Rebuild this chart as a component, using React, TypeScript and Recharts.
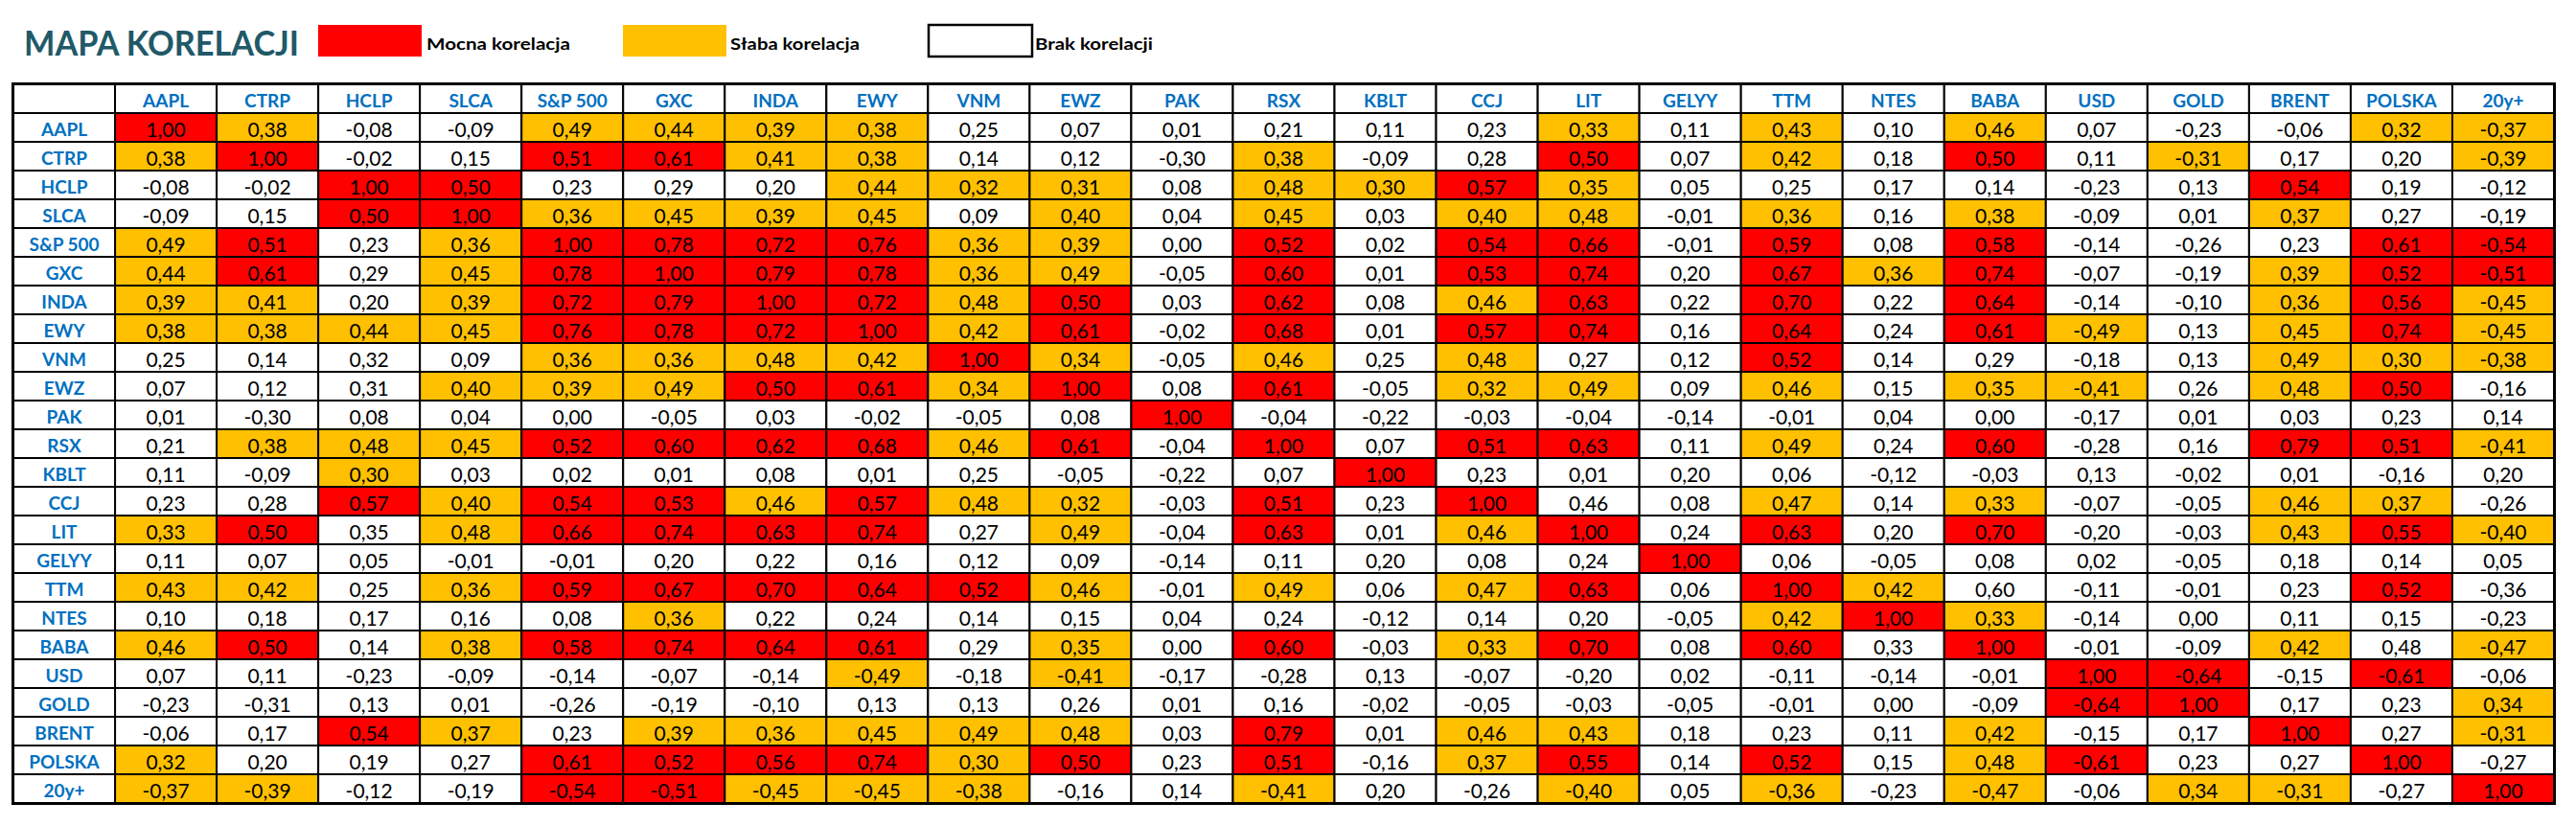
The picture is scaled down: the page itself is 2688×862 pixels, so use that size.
import React from 'react';
import { ScatterChart, Scatter, XAxis, YAxis } from 'recharts';

// ---------- DATA ----------
const tickers = ['AAPL', 'CTRP', 'HCLP', 'SLCA', 'S&P 500', 'GXC', 'INDA', 'EWY', 'VNM', 'EWZ', 'PAK', 'RSX', 'KBLT', 'CCJ', 'LIT', 'GELYY', 'TTM', 'NTES', 'BABA', 'USD', 'GOLD', 'BRENT', 'POLSKA', '20y+'];

const legendLabels = ['Mocna korelacja', 'Słaba korelacja', 'Brak korelacji'];
const title = 'MAPA KORELACJI';

// correlation values, one array per row (column order = tickers)
const rowAAPL = [1.00, 0.38, -0.08, -0.09, 0.49, 0.44, 0.39, 0.38, 0.25, 0.07, 0.01, 0.21, 0.11, 0.23, 0.33, 0.11, 0.43, 0.10, 0.46, 0.07, -0.23, -0.06, 0.32, -0.37];
const rowCTRP = [0.38, 1.00, -0.02, 0.15, 0.51, 0.61, 0.41, 0.38, 0.14, 0.12, -0.30, 0.38, -0.09, 0.28, 0.50, 0.07, 0.42, 0.18, 0.50, 0.11, -0.31, 0.17, 0.20, -0.39];
const rowHCLP = [-0.08, -0.02, 1.00, 0.50, 0.23, 0.29, 0.20, 0.44, 0.32, 0.31, 0.08, 0.48, 0.30, 0.57, 0.35, 0.05, 0.25, 0.17, 0.14, -0.23, 0.13, 0.54, 0.19, -0.12];
const rowSLCA = [-0.09, 0.15, 0.50, 1.00, 0.36, 0.45, 0.39, 0.45, 0.09, 0.40, 0.04, 0.45, 0.03, 0.40, 0.48, -0.01, 0.36, 0.16, 0.38, -0.09, 0.01, 0.37, 0.27, -0.19];
const rowSP500 = [0.49, 0.51, 0.23, 0.36, 1.00, 0.78, 0.72, 0.76, 0.36, 0.39, 0.00, 0.52, 0.02, 0.54, 0.66, -0.01, 0.59, 0.08, 0.58, -0.14, -0.26, 0.23, 0.61, -0.54];
const rowGXC = [0.44, 0.61, 0.29, 0.45, 0.78, 1.00, 0.79, 0.78, 0.36, 0.49, -0.05, 0.60, 0.01, 0.53, 0.74, 0.20, 0.67, 0.36, 0.74, -0.07, -0.19, 0.39, 0.52, -0.51];
const rowINDA = [0.39, 0.41, 0.20, 0.39, 0.72, 0.79, 1.00, 0.72, 0.48, 0.50, 0.03, 0.62, 0.08, 0.46, 0.63, 0.22, 0.70, 0.22, 0.64, -0.14, -0.10, 0.36, 0.56, -0.45];
const rowEWY = [0.38, 0.38, 0.44, 0.45, 0.76, 0.78, 0.72, 1.00, 0.42, 0.61, -0.02, 0.68, 0.01, 0.57, 0.74, 0.16, 0.64, 0.24, 0.61, -0.49, 0.13, 0.45, 0.74, -0.45];
const rowVNM = [0.25, 0.14, 0.32, 0.09, 0.36, 0.36, 0.48, 0.42, 1.00, 0.34, -0.05, 0.46, 0.25, 0.48, 0.27, 0.12, 0.52, 0.14, 0.29, -0.18, 0.13, 0.49, 0.30, -0.38];
const rowEWZ = [0.07, 0.12, 0.31, 0.40, 0.39, 0.49, 0.50, 0.61, 0.34, 1.00, 0.08, 0.61, -0.05, 0.32, 0.49, 0.09, 0.46, 0.15, 0.35, -0.41, 0.26, 0.48, 0.50, -0.16];
const rowPAK = [0.01, -0.30, 0.08, 0.04, 0.00, -0.05, 0.03, -0.02, -0.05, 0.08, 1.00, -0.04, -0.22, -0.03, -0.04, -0.14, -0.01, 0.04, 0.00, -0.17, 0.01, 0.03, 0.23, 0.14];
const rowRSX = [0.21, 0.38, 0.48, 0.45, 0.52, 0.60, 0.62, 0.68, 0.46, 0.61, -0.04, 1.00, 0.07, 0.51, 0.63, 0.11, 0.49, 0.24, 0.60, -0.28, 0.16, 0.79, 0.51, -0.41];
const rowKBLT = [0.11, -0.09, 0.30, 0.03, 0.02, 0.01, 0.08, 0.01, 0.25, -0.05, -0.22, 0.07, 1.00, 0.23, 0.01, 0.20, 0.06, -0.12, -0.03, 0.13, -0.02, 0.01, -0.16, 0.20];
const rowCCJ = [0.23, 0.28, 0.57, 0.40, 0.54, 0.53, 0.46, 0.57, 0.48, 0.32, -0.03, 0.51, 0.23, 1.00, 0.46, 0.08, 0.47, 0.14, 0.33, -0.07, -0.05, 0.46, 0.37, -0.26];
const rowLIT = [0.33, 0.50, 0.35, 0.48, 0.66, 0.74, 0.63, 0.74, 0.27, 0.49, -0.04, 0.63, 0.01, 0.46, 1.00, 0.24, 0.63, 0.20, 0.70, -0.20, -0.03, 0.43, 0.55, -0.40];
const rowGELYY = [0.11, 0.07, 0.05, -0.01, -0.01, 0.20, 0.22, 0.16, 0.12, 0.09, -0.14, 0.11, 0.20, 0.08, 0.24, 1.00, 0.06, -0.05, 0.08, 0.02, -0.05, 0.18, 0.14, 0.05];
const rowTTM = [0.43, 0.42, 0.25, 0.36, 0.59, 0.67, 0.70, 0.64, 0.52, 0.46, -0.01, 0.49, 0.06, 0.47, 0.63, 0.06, 1.00, 0.42, 0.60, -0.11, -0.01, 0.23, 0.52, -0.36];
const rowNTES = [0.10, 0.18, 0.17, 0.16, 0.08, 0.36, 0.22, 0.24, 0.14, 0.15, 0.04, 0.24, -0.12, 0.14, 0.20, -0.05, 0.42, 1.00, 0.33, -0.14, 0.00, 0.11, 0.15, -0.23];
const rowBABA = [0.46, 0.50, 0.14, 0.38, 0.58, 0.74, 0.64, 0.61, 0.29, 0.35, 0.00, 0.60, -0.03, 0.33, 0.70, 0.08, 0.60, 0.33, 1.00, -0.01, -0.09, 0.42, 0.48, -0.47];
const rowUSD = [0.07, 0.11, -0.23, -0.09, -0.14, -0.07, -0.14, -0.49, -0.18, -0.41, -0.17, -0.28, 0.13, -0.07, -0.20, 0.02, -0.11, -0.14, -0.01, 1.00, -0.64, -0.15, -0.61, -0.06];
const rowGOLD = [-0.23, -0.31, 0.13, 0.01, -0.26, -0.19, -0.10, 0.13, 0.13, 0.26, 0.01, 0.16, -0.02, -0.05, -0.03, -0.05, -0.01, 0.00, -0.09, -0.64, 1.00, 0.17, 0.23, 0.34];
const rowBRENT = [-0.06, 0.17, 0.54, 0.37, 0.23, 0.39, 0.36, 0.45, 0.49, 0.48, 0.03, 0.79, 0.01, 0.46, 0.43, 0.18, 0.23, 0.11, 0.42, -0.15, 0.17, 1.00, 0.27, -0.31];
const rowPOLSKA = [0.32, 0.20, 0.19, 0.27, 0.61, 0.52, 0.56, 0.74, 0.30, 0.50, 0.23, 0.51, -0.16, 0.37, 0.55, 0.14, 0.52, 0.15, 0.48, -0.61, 0.23, 0.27, 1.00, -0.27];
const row20y = [-0.37, -0.39, -0.12, -0.19, -0.54, -0.51, -0.45, -0.45, -0.38, -0.16, 0.14, -0.41, 0.20, -0.26, -0.40, 0.05, -0.36, -0.23, -0.47, -0.06, 0.34, -0.31, -0.27, 1.00];

// highlight class per cell: 2 = strong (Mocna), 1 = weak (Słaba), 0 = none (Brak)
const levAAPL = [2, 1, 0, 0, 1, 1, 1, 1, 0, 0, 0, 0, 0, 0, 1, 0, 1, 0, 1, 0, 0, 0, 1, 1];
const levCTRP = [1, 2, 0, 0, 2, 2, 1, 1, 0, 0, 0, 1, 0, 0, 2, 0, 1, 0, 2, 0, 1, 0, 0, 1];
const levHCLP = [0, 0, 2, 2, 0, 0, 0, 1, 1, 1, 0, 1, 1, 2, 1, 0, 0, 0, 0, 0, 0, 2, 0, 0];
const levSLCA = [0, 0, 2, 2, 1, 1, 1, 1, 0, 1, 0, 1, 0, 1, 1, 0, 1, 0, 1, 0, 0, 1, 0, 0];
const levSP500 = [1, 2, 0, 1, 2, 2, 2, 2, 1, 1, 0, 2, 0, 2, 2, 0, 2, 0, 2, 0, 0, 0, 2, 2];
const levGXC = [1, 2, 0, 1, 2, 2, 2, 2, 1, 1, 0, 2, 0, 2, 2, 0, 2, 1, 2, 0, 0, 1, 2, 2];
const levINDA = [1, 1, 0, 1, 2, 2, 2, 2, 1, 2, 0, 2, 0, 1, 2, 0, 2, 0, 2, 0, 0, 1, 2, 1];
const levEWY = [1, 1, 1, 1, 2, 2, 2, 2, 1, 2, 0, 2, 0, 2, 2, 0, 2, 0, 2, 1, 0, 1, 2, 1];
const levVNM = [0, 0, 0, 0, 1, 1, 1, 1, 2, 1, 0, 1, 0, 1, 0, 0, 2, 0, 0, 0, 0, 1, 1, 1];
const levEWZ = [0, 0, 0, 1, 1, 1, 2, 2, 1, 2, 0, 2, 0, 1, 1, 0, 1, 0, 1, 1, 0, 1, 2, 0];
const levPAK = [0, 0, 0, 0, 0, 0, 0, 0, 0, 0, 2, 0, 0, 0, 0, 0, 0, 0, 0, 0, 0, 0, 0, 0];
const levRSX = [0, 1, 1, 1, 2, 2, 2, 2, 1, 2, 0, 2, 0, 2, 2, 0, 1, 0, 2, 0, 0, 2, 2, 1];
const levKBLT = [0, 0, 1, 0, 0, 0, 0, 0, 0, 0, 0, 0, 2, 0, 0, 0, 0, 0, 0, 0, 0, 0, 0, 0];
const levCCJ = [0, 0, 2, 1, 2, 2, 1, 2, 1, 1, 0, 2, 0, 2, 0, 0, 1, 0, 1, 0, 0, 1, 1, 0];
const levLIT = [1, 2, 0, 1, 2, 2, 2, 2, 0, 1, 0, 2, 0, 1, 2, 0, 2, 0, 2, 0, 0, 1, 2, 1];
const levGELYY = [0, 0, 0, 0, 0, 0, 0, 0, 0, 0, 0, 0, 0, 0, 0, 2, 0, 0, 0, 0, 0, 0, 0, 0];
const levTTM = [1, 1, 0, 1, 2, 2, 2, 2, 2, 1, 0, 1, 0, 1, 2, 0, 2, 1, 0, 0, 0, 0, 2, 0];
const levNTES = [0, 0, 0, 0, 0, 1, 0, 0, 0, 0, 0, 0, 0, 0, 0, 0, 1, 2, 1, 0, 0, 0, 0, 0];
const levBABA = [1, 2, 0, 1, 2, 2, 2, 2, 0, 1, 0, 2, 0, 1, 2, 0, 2, 0, 2, 0, 0, 1, 0, 1];
const levUSD = [0, 0, 0, 0, 0, 0, 0, 1, 0, 1, 0, 0, 0, 0, 0, 0, 0, 0, 0, 2, 2, 0, 2, 0];
const levGOLD = [0, 0, 0, 0, 0, 0, 0, 0, 0, 0, 0, 0, 0, 0, 0, 0, 0, 0, 0, 2, 2, 0, 0, 1];
const levBRENT = [0, 0, 2, 1, 0, 1, 1, 1, 1, 1, 0, 2, 0, 1, 1, 0, 0, 0, 1, 0, 0, 2, 0, 1];
const levPOLSKA = [1, 0, 0, 0, 2, 2, 2, 2, 1, 2, 0, 2, 0, 1, 2, 0, 2, 0, 1, 2, 0, 0, 2, 0];
const lev20y = [1, 1, 0, 0, 2, 2, 1, 1, 1, 0, 0, 1, 0, 0, 1, 0, 1, 0, 1, 0, 1, 1, 0, 2];

const valueRows = [rowAAPL, rowCTRP, rowHCLP, rowSLCA, rowSP500, rowGXC, rowINDA, rowEWY, rowVNM, rowEWZ, rowPAK, rowRSX, rowKBLT, rowCCJ, rowLIT, rowGELYY, rowTTM, rowNTES, rowBABA, rowUSD, rowGOLD, rowBRENT, rowPOLSKA, row20y];
const levelRows = [levAAPL, levCTRP, levHCLP, levSLCA, levSP500, levGXC, levINDA, levEWY, levVNM, levEWZ, levPAK, levRSX, levKBLT, levCCJ, levLIT, levGELYY, levTTM, levNTES, levBABA, levUSD, levGOLD, levBRENT, levPOLSKA, lev20y];

// ---------- STYLE / LAYOUT ----------
const W = 2688;
const H = 862;
const LEFT = 14;
const TOP = 88;
const RIGHT = 2665;
const BOTTOM = 838;
const N = tickers.length;
const CW = (RIGHT - LEFT) / (N + 1);
const CH = (BOTTOM - TOP) / (N + 1);
const LEVEL_COLORS = ['#FFFFFF', '#FFC000', '#FF0000'];
const FONT = 'Lato, "Open Sans", "Liberation Sans", sans-serif';
const HEADER_BLUE = '#0070C0';
const TITLE_COLOR = '#215968';
const VLINE = 2;
const HLINE = 2;

const cells = valueRows.flatMap((row, r) =>
  row.map((v, c) => ({ x: c + 0.5, y: r + 0.5, v, level: levelRows[r][c] }))
);
const tickPositions = tickers.map((_, i) => i + 0.5);

const fmt = (v: number) => v.toFixed(2).replace('.', ',');

function GridBox({ x0, y0, fill, children }: { x0: number; y0: number; fill: string; children?: React.ReactNode }) {
  const x1 = x0 + CW;
  const y1 = y0 + CH;
  return (
    <g>
      <rect x={x0} y={y0} width={CW} height={CH} fill={fill} />
      <line x1={x0} y1={y0} x2={x0} y2={y1} stroke="#000" strokeWidth={VLINE} />
      <line x1={x1} y1={y0} x2={x1} y2={y1} stroke="#000" strokeWidth={VLINE} />
      <line x1={x0 - VLINE / 2} y1={y0} x2={x1 + VLINE / 2} y2={y0} stroke="#000" strokeWidth={HLINE} />
      <line x1={x0 - VLINE / 2} y1={y1} x2={x1 + VLINE / 2} y2={y1} stroke="#000" strokeWidth={HLINE} />
      {children}
    </g>
  );
}

function ValueCell(props: any) {
  const { cx, cy, payload } = props;
  if (cx == null || cy == null || !payload) return null;
  return (
    <GridBox x0={cx - CW / 2} y0={cy - CH / 2} fill={LEVEL_COLORS[payload.level]}>
      <text x={cx} y={cy + 1} textAnchor="middle" dominantBaseline="central" fontFamily={FONT} fontSize={21} fill="#000">
        {fmt(payload.v)}
      </text>
    </GridBox>
  );
}

function HeaderTick(props: any) {
  const { x, payload } = props;
  const label = tickers[Math.floor(payload.value)];
  return (
    <GridBox x0={x - CW / 2} y0={TOP} fill="#FFFFFF">
      <text x={x} y={TOP + CH / 2 + 1} textAnchor="middle" dominantBaseline="central" fontFamily={FONT} fontWeight={700} fontSize={19} fill={HEADER_BLUE}>
        {label}
      </text>
    </GridBox>
  );
}

function RowTick(props: any) {
  const { y, payload } = props;
  const label = tickers[Math.floor(payload.value)];
  return (
    <GridBox x0={LEFT} y0={y - CH / 2} fill="#FFFFFF">
      <text x={LEFT + CW / 2} y={y + 1} textAnchor="middle" dominantBaseline="central" fontFamily={FONT} fontWeight={700} fontSize={19} fill={HEADER_BLUE}>
        {label}
      </text>
    </GridBox>
  );
}

function TitleAndLegend() {
  const boxes = [
    { x: 332, fill: LEVEL_COLORS[2], border: false, textX: 445, textW: 150 },
    { x: 650, fill: LEVEL_COLORS[1], border: false, textX: 762, textW: 135 },
    { x: 969, fill: LEVEL_COLORS[0], border: true, textX: 1080, textW: 123 },
  ];
  return (
    <svg width={W} height={TOP} style={{ position: 'absolute', left: 0, top: 0 }}>
      <text x={25} y={58} fontFamily={FONT} fontWeight={700} fontSize={36} fill={TITLE_COLOR} textLength={287} lengthAdjust="spacingAndGlyphs">
        {title}
      </text>
      {boxes.map((b, i) => (
        <g key={i}>
          <rect x={b.x} y={26} width={108} height={33} fill={b.fill} stroke={b.border ? '#000' : 'none'} strokeWidth={b.border ? 2.5 : 0} />
          <text x={b.textX} y={52} fontFamily={FONT} fontWeight={700} fontSize={17} fill="#000" textLength={b.textW} lengthAdjust="spacingAndGlyphs">
            {legendLabels[i]}
          </text>
        </g>
      ))}
    </svg>
  );
}

export default function App() {
  return (
    <div style={{ position: 'absolute', left: 0, top: 0, width: W, height: H, background: '#fff' }}>
      <TitleAndLegend />
      <div style={{ position: 'absolute', left: 0, top: 0 }}>
        <ScatterChart
          width={W}
          height={H}
          margin={{ left: LEFT, top: TOP, right: W - RIGHT, bottom: H - BOTTOM }}
        >
          <XAxis
            dataKey="x"
            type="number"
            orientation="top"
            domain={[0, N]}
            allowDataOverflow
            ticks={tickPositions}
            interval={0}
            height={CH}
            axisLine={false}
            tickLine={false}
            tick={(p: any) => <HeaderTick {...p} />}
          />
          <YAxis
            dataKey="y"
            type="number"
            domain={[0, N]}
            allowDataOverflow
            reversed
            ticks={tickPositions}
            interval={0}
            width={CW}
            axisLine={false}
            tickLine={false}
            tick={(p: any) => <RowTick {...p} />}
          />
          <Scatter data={cells} isAnimationActive={false} shape={(p: any) => <ValueCell {...p} />} />
        </ScatterChart>
      </div>
      <div
        style={{
          position: 'absolute',
          left: LEFT - 2,
          top: TOP - 2,
          width: RIGHT - LEFT + 4,
          height: BOTTOM - TOP + 4,
          border: '3px solid #000',
          boxSizing: 'border-box',
          pointerEvents: 'none',
        }}
      />
      <div
        style={{
          position: 'absolute',
          left: LEFT,
          top: TOP,
          width: CW + 1,
          height: CH + 1,
          borderRight: `${VLINE}px solid #000`,
          borderBottom: `${HLINE}px solid #000`,
          boxSizing: 'border-box',
          pointerEvents: 'none',
        }}
      />
    </div>
  );
}
